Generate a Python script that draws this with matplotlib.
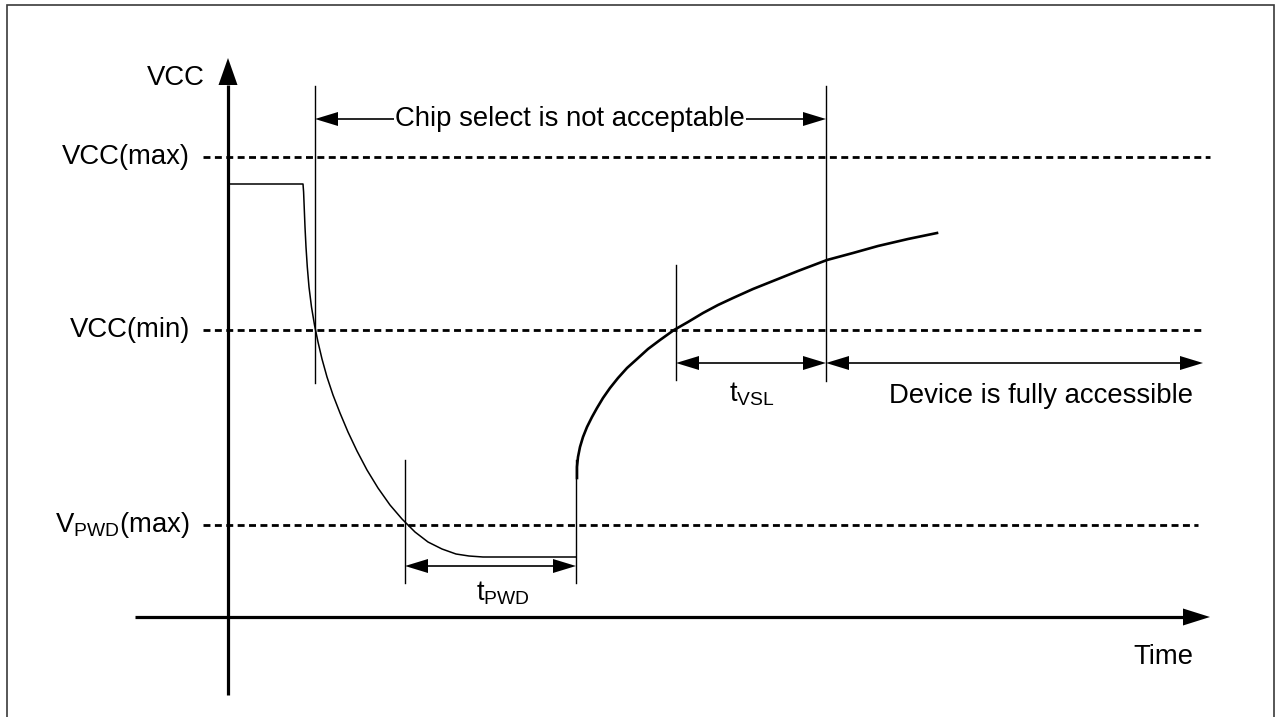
import numpy as np
import matplotlib
matplotlib.use("Agg")
import matplotlib.pyplot as plt
from matplotlib.patches import Rectangle

plt.rcParams['font.family'] = ['Liberation Sans', 'DejaVu Sans']
plt.rcParams['mathtext.fontset'] = 'custom'
plt.rcParams['mathtext.rm'] = 'Liberation Sans'
plt.rcParams['lines.scale_dashes'] = False

# voltage levels (height above the time axis)
vcc_max = 460
vcc_min = 287
vpwd_max = 92

# supply falling from the working level down to the floor
fall_t = [0, 75, 75.6, 76.2, 77, 78, 79.3, 81, 83.5, 86.5, 90, 94, 99, 105,
          112, 120, 129, 139, 150, 162, 174, 187, 200, 214, 228, 241, 255, 348]
fall_v = [433, 433, 425, 410, 390, 370, 350, 330, 310, 292, 275, 258, 240, 222,
          204, 185, 166, 147, 129, 112, 98, 85, 75, 68, 63, 61, 60, 60]

# supply ramping up again
rise_t = [349, 349, 350, 352, 355, 359, 364, 369, 375, 382, 390, 399, 409, 420,
          432, 446, 460, 475, 490, 505, 525, 545, 570, 599, 625, 650, 680, 709]
rise_v = [139, 150, 160, 170, 180, 190, 200, 209, 219, 229, 239, 249, 258, 268,
          277, 287, 295, 304, 312, 319, 328, 336, 346, 357, 364, 371, 378, 384]

# vertical marker lines: time, bottom, top
markers_t = [87, 598, 177, 348, 448]
markers_lo = [234, 236, 34, 34, 237]
markers_hi = [531, 531, 157, 157, 352]

# double-headed spans: start, end, level
spans = [
    (87, 598, 498),
    (177, 348, 51),
    (448, 598, 254),
    (598, 975, 254),
]

FS = 19.8
fig = plt.figure(figsize=(12.81, 7.17), dpi=100)
ax = fig.add_axes([0, 0, 1, 1])
ax.set_xlim(-228, 1281 - 228)
ax.set_ylim(617 - 717, 617)
ax.axis('off')


def head(x, y, dx, dy, length, half):
    # filled triangle with its tip at (x, y) pointing along (dx, dy)
    px, py = -dy, dx
    bx, by = x - dx * length, y - dy * length
    ax.fill([x, bx + px * half, bx - px * half], [y, by + py * half, by - py * half],
            color='black', lw=0, zorder=5)


# frame
ax.add_patch(Rectangle((-221, -200), 1267, 812, fill=False, ec='#3a3a3a', lw=1.2))

# axes
ax.plot([0, 0], [-78, 532], color='black', lw=2.3, solid_capstyle='butt')
head(0, 559, 0, 1, 27, 9.5)
ax.plot([-93, 955], [0, 0], color='black', lw=2.3, solid_capstyle='butt')
head(982, 0, 1, 0, 27, 8.5)

# level lines
for lev, end in [(vcc_max, 982), (vcc_min, 975), (vpwd_max, 970)]:
    ax.plot([-25, end], [lev, lev], color='black', lw=2.0, dashes=(5, 3.2))

# supply curve
ax.plot(fall_t, fall_v, color='black', lw=1.1)
ax.plot(rise_t, rise_v, color='black', lw=1.9)

for t, lo, hi in zip(markers_t, markers_lo, markers_hi):
    ax.plot([t, t], [lo, hi], color='black', lw=1.0)

for a, b, lev in spans:
    ax.plot([a + 20, b - 20], [lev, lev], color='black', lw=1.2)
    head(a, lev, -1, 0, 23, 7)
    head(b, lev, 1, 0, 23, 7)

# labels
ax.text(-23, 539, 'VCC', fontsize=FS, ha='right', va='center')
ax.text(-38, vcc_max, 'VCC(max)', fontsize=FS, ha='right', va='center')
ax.text(-38, vcc_min, 'VCC(min)', fontsize=FS, ha='right', va='center')
ax.text(-38, vpwd_max, r'$\mathregular{V_{PWD}}$(max)', fontsize=FS, ha='right', va='center')
ax.text(342, 498, 'Chip select is not acceptable', fontsize=FS, ha='center', va='center',
        bbox=dict(fc='white', ec='none', pad=1.0), zorder=6)
ax.text(275, 24, r'$\mathregular{t_{PWD}}$', fontsize=FS, ha='center', va='center')
ax.text(524, 223, r'$\mathregular{t_{VSL}}$', fontsize=FS, ha='center', va='center')
ax.text(813, 221, 'Device is fully accessible', fontsize=FS, ha='center', va='center')
ax.text(935, -40, 'Time', fontsize=FS, ha='center', va='center')

fig.savefig('out.png', dpi=100)
